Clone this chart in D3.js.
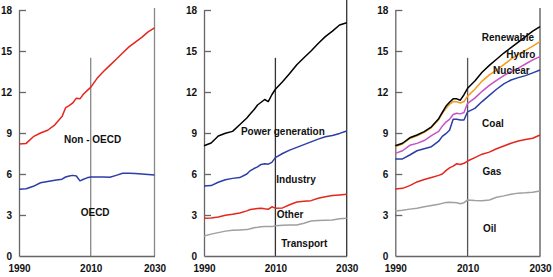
<!DOCTYPE html>
<html>
<head>
<meta charset="utf-8">
<script src="https://cdn.jsdelivr.net/npm/d3@7"></script>
<style>
  body { margin: 0; background: #fff; }
  svg { display: block; font-family: "Liberation Sans", Arial, sans-serif; }
  .lbl { font-size: 10px; font-weight: bold; fill: #111; }
  .tick text { font-size: 10px; font-weight: bold; fill: #111; }
</style>
</head>
<body>
<svg width="553" height="277"></svg>
<script>
// years shared by every series
const years = [1990, 1992, 1994, 1996, 1998, 2000, 2002, 2003, 2004, 2005, 2006, 2007, 2008, 2009, 2010,
               2012, 2014, 2016, 2018, 2020, 2022, 2024, 2026, 2028, 2030];
const yTicks = [0, 3, 6, 9, 12, 15, 18];
const xTicks = [1990, 2010, 2030];

// panel 1 - by region
const nonOecd   = [8.2, 8.24, 8.73, 9.0, 9.2, 9.6, 10.2, 10.85, 11.0, 11.2, 11.55, 11.5, 11.85, 12.1, 12.34,
                   13.0, 13.5, 13.95, 14.4, 14.85, 15.3, 15.65, 16.0, 16.4, 16.7];
const oecd      = [4.88, 4.92, 5.1, 5.36, 5.45, 5.55, 5.62, 5.78, 5.85, 5.9, 5.85, 5.5, 5.62, 5.72, 5.78,
                   5.78, 5.78, 5.76, 5.9, 6.05, 6.05, 6.04, 6.0, 5.96, 5.93];

// panel 2 - by sector
const powerGen  = [8.07, 8.27, 8.78, 8.98, 9.12, 9.6, 10.1, 10.4, 10.7, 11.05, 11.25, 11.45, 11.3, 11.8, 12.2,
                   12.75, 13.35, 14.0, 14.5, 15.0, 15.55, 16.05, 16.45, 16.9, 17.07];
const industry  = [5.12, 5.15, 5.4, 5.58, 5.68, 5.74, 6.0, 6.25, 6.4, 6.52, 6.7, 6.75, 6.72, 6.85, 7.2,
                   7.5, 7.75, 7.95, 8.15, 8.35, 8.55, 8.72, 8.82, 8.97, 9.15];
const other     = [2.76, 2.78, 2.85, 2.98, 3.05, 3.15, 3.3, 3.4, 3.44, 3.47, 3.5, 3.45, 3.42, 3.6, 3.5,
                   3.52, 3.75, 3.95, 4.0, 4.05, 4.22, 4.34, 4.42, 4.47, 4.51];
const transport = [1.46, 1.6, 1.71, 1.82, 1.88, 1.9, 1.93, 2.0, 2.07, 2.1, 2.14, 2.15, 2.15, 2.15, 2.22,
                   2.25, 2.26, 2.27, 2.4, 2.56, 2.6, 2.62, 2.64, 2.72, 2.76];

// panel 3 - by fuel (cumulative)
const renewable = [8.07, 8.25, 8.65, 8.85, 9.1, 9.45, 10.05, 10.5, 10.95, 11.25, 11.5, 11.5, 11.4, 11.8, 12.27,
                   12.8, 13.45, 13.95, 14.4, 14.85, 15.25, 15.65, 16.05, 16.45, 16.78];
const hydro     = [8.0, 8.2, 8.6, 8.8, 9.05, 9.4, 9.98, 10.45, 10.8, 11.1, 11.3, 11.28, 11.2, 11.3, 11.7,
                   12.2, 12.8, 13.25, 13.6, 14.0, 14.4, 14.75, 15.05, 15.35, 15.68];
const nuclear   = [7.51, 7.7, 8.1, 8.24, 8.45, 8.8, 9.12, 9.5, 9.8, 10.0, 10.35, 10.44, 10.4, 10.5, 11.17,
                   11.55, 12.05, 12.48, 12.85, 13.2, 13.5, 13.75, 14.05, 14.35, 14.59];
const coal      = [7.1, 7.1, 7.39, 7.7, 7.85, 8.0, 8.4, 8.75, 8.95, 9.2, 10.0, 10.0, 9.95, 9.95, 10.55,
                   10.8, 11.3, 11.75, 12.2, 12.6, 12.88, 13.05, 13.2, 13.4, 13.61];
const gas       = [4.9, 4.95, 5.15, 5.42, 5.6, 5.75, 5.9, 6.0, 6.25, 6.45, 6.58, 6.75, 6.7, 6.78, 6.95,
                   7.2, 7.45, 7.6, 7.85, 8.05, 8.25, 8.42, 8.52, 8.62, 8.85];
const oil       = [3.29, 3.35, 3.43, 3.5, 3.6, 3.7, 3.78, 3.85, 3.92, 3.93, 3.92, 3.9, 3.82, 3.9, 4.1,
                   4.06, 4.05, 4.1, 4.3, 4.4, 4.52, 4.6, 4.62, 4.66, 4.76];

const red = "#e5261c", blue = "#2b3ea6", gray = "#a0a0a0";

const panels = [
  {
    xRange: [19, 90.7, 154.5], lineColor: "#888", rightTop: 8,
    series: [{ v: nonOecd, c: red }, { v: oecd, c: blue }],
    labels: [["Non - OECD", 2010.6, 8.56], ["OECD", 2011.4, 3.22]]
  },
  {
    xRange: [204, 275.4, 346.7], lineColor: "#333", rightTop: 0,
    series: [{ v: transport, c: gray }, { v: other, c: red }, { v: industry, c: blue }, { v: powerGen, c: "#000" }],
    labels: [["Power generation", 2012.1, 9.15], ["Industry", 2015.8, 5.61],
             ["Other", 2014.1, 3.07], ["Transport", 2018.1, 0.93]]
  },
  {
    xRange: [395.3, 467.6, 540], lineColor: "#555", rightTop: 8,
    series: [{ v: oil, c: gray }, { v: gas, c: red }, { v: coal, c: blue }, { v: nuclear, c: "#c652c6" },
             { v: hydro, c: "#f59a1b" }, { v: renewable, c: "#000" }],
    labels: [["Renewable", 2021.15, 16.0], ["Hydro", 2024.7, 14.76], ["Nuclear", 2022.1, 13.56],
             ["Coal", 2017.0, 9.71], ["Gas", 2016.7, 6.17], ["Oil", 2016.1, 2.03]]
  }
];

const svg = d3.select("svg");
const y = d3.scaleLinear().domain([0, 18]).range([256, 10]);

panels.forEach(p => {
  const x = d3.scaleLinear().domain(xTicks).range(p.xRange);
  const g = svg.append("g");

  // vertical marker lines at 2010 and 2030
  g.append("line")
    .attr("x1", x(2010)).attr("x2", x(2010))
    .attr("y1", y(14.5)).attr("y2", y(0))
    .attr("stroke", p.lineColor).attr("stroke-width", 1.3);
  g.append("line")
    .attr("x1", x(2030)).attr("x2", x(2030))
    .attr("y1", p.rightTop).attr("y2", y(0))
    .attr("stroke", p.lineColor).attr("stroke-width", 1.3);

  // y axis, ticks pointing inward
  const ya = g.append("g")
    .attr("transform", `translate(${x(1990)},0)`)
    .call(d3.axisLeft(y).tickValues(yTicks).tickSize(-7).tickSizeOuter(0).tickPadding(7));
  ya.select(".domain").attr("stroke", "#666").attr("stroke-width", 1.3);
  ya.selectAll(".tick line").attr("stroke", "#666").attr("stroke-width", 1.3)
    .filter(d => d === 0).remove();
  ya.selectAll(".tick text").attr("dy", "0.36em");

  // x axis
  const xa = g.append("g")
    .attr("transform", `translate(0,${y(0)})`)
    .call(d3.axisBottom(x).tickValues(xTicks).tickFormat(d3.format("d")).tickSize(0).tickPadding(9));
  xa.select(".domain").attr("stroke", "#666").attr("stroke-width", 1.3);

  const line = d3.line()
    .x((d, i) => x(years[i]))
    .y(d => y(d));

  p.series.forEach(s => {
    g.append("path")
      .datum(s.v)
      .attr("d", line)
      .attr("fill", "none")
      .attr("stroke", s.c)
      .attr("stroke-width", 1.5)
      .attr("stroke-linejoin", "round");
  });

  p.labels.forEach(([t, yr, v]) => {
    g.append("text")
      .attr("class", "lbl")
      .attr("x", x(yr))
      .attr("y", y(v))
      .attr("dy", "0.36em")
      .attr("text-anchor", "middle")
      .text(t);
  });
});
</script>
</body>
</html>
